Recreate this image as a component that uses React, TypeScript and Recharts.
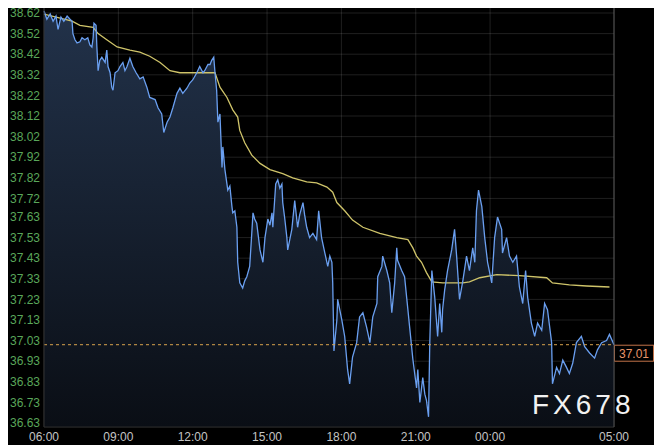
import React from "react";
import {
  ComposedChart,
  Area,
  Line,
  XAxis,
  YAxis,
  CartesianGrid,
  ReferenceLine,
} from "recharts";

// minutes since 06:00
const priceMinutes = [
  0, 7, 15, 22, 29, 34, 41, 48, 56, 63, 68, 70, 75, 80, 87, 92, 99, 106, 111, 116,
  119, 121, 126, 128, 131, 135, 140, 148, 152, 155, 160, 164, 167, 172, 179, 184, 191, 196, 201, 208,
  215, 223, 232, 240, 249, 256, 269, 276, 285, 290, 298, 305, 312, 322, 329, 336, 346, 353, 360, 370,
  377, 385, 389, 397, 402, 406, 411, 414, 418, 421, 426, 431, 433, 438, 445, 450, 455, 457, 462, 467,
  469, 474, 481, 486, 491, 498, 503, 506, 510, 515, 523, 530, 535, 542, 547, 552, 554, 561, 566, 571,
  576, 578, 583, 588, 590, 595, 600, 607, 614, 619, 627, 631, 636, 643, 651, 660, 665, 672, 680, 687,
  692, 697, 699, 702, 709, 711, 721, 728, 735, 740, 747, 757, 764, 772, 781, 789, 796, 806, 808, 818,
  820, 830, 837, 842, 849, 854, 856, 866, 873, 878, 881, 885, 893, 902, 905, 910, 917, 922, 926, 931,
  934, 939, 946, 953, 958, 963, 965, 970, 977, 987, 994, 999, 1006, 1014, 1023, 1030, 1038, 1043, 1047, 1052,
  1060, 1067, 1074, 1084, 1091, 1098, 1108, 1110, 1120, 1127, 1135, 1144, 1151, 1159, 1166, 1171, 1180, 1188, 1195, 1205,
  1212, 1219, 1229, 1231, 1241, 1248, 1256, 1265, 1272, 1280, 1289, 1301, 1309, 1321, 1333, 1340, 1350, 1362, 1369, 1380,
];

const priceValues = [
  38.63, 38.59, 38.615, 38.58, 38.605, 38.54, 38.6, 38.58, 38.605, 38.59, 38.58, 38.52, 38.49, 38.475, 38.48, 38.5, 38.49, 38.5, 38.465, 38.455,
  38.5, 38.57, 38.56, 38.455, 38.34, 38.39, 38.405, 38.38, 38.44, 38.36, 38.33, 38.26, 38.245, 38.33, 38.34, 38.36, 38.38, 38.34, 38.36, 38.4,
  38.36, 38.33, 38.3, 38.31, 38.26, 38.21, 38.2, 38.16, 38.13, 38.04, 38.09, 38.115, 38.16, 38.23, 38.255, 38.23, 38.255, 38.28, 38.295, 38.33,
  38.36, 38.33, 38.34, 38.37, 38.37, 38.39, 38.405, 38.33, 38.245, 38.09, 38.13, 37.87, 37.97, 37.86, 37.76, 37.78, 37.68, 37.65, 37.66, 37.58,
  37.41, 37.31, 37.285, 37.32, 37.34, 37.39, 37.55, 37.65, 37.62, 37.6, 37.47, 37.41, 37.53, 37.62, 37.59, 37.65, 37.58, 37.79, 37.81, 37.77,
  37.79, 37.7, 37.62, 37.53, 37.47, 37.52, 37.57, 37.71, 37.58, 37.64, 37.7, 37.64, 37.58, 37.53, 37.55, 37.52, 37.66, 37.53, 37.455, 37.39,
  37.44, 37.41, 37.31, 36.98, 37.13, 37.23, 37.13, 37.05, 36.89, 36.82, 36.95, 37.02, 37.145, 37.165, 37.095, 37.02, 37.145, 37.21, 37.34, 37.39,
  37.44, 37.37, 37.31, 37.165, 37.31, 37.48, 37.42, 37.37, 37.34, 37.24, 37.18, 37.1, 36.94, 36.8, 36.89, 36.73, 36.85, 36.77, 36.74, 36.66,
  37.02, 37.37, 37.24, 37.05, 37.21, 37.07, 37.18, 37.275, 37.37, 37.47, 37.57, 37.44, 37.23, 37.32, 37.44, 37.37, 37.48, 37.41, 37.66, 37.76,
  37.68, 37.53, 37.41, 37.31, 37.53, 37.63, 37.57, 37.455, 37.53, 37.44, 37.41, 37.44, 37.29, 37.21, 37.37, 37.24, 37.115, 37.05, 37.115, 37.08,
  37.21, 37.18, 37.02, 36.82, 36.9, 36.87, 36.935, 36.9, 36.87, 36.92, 37.02, 37.05, 37.0, 36.97, 36.945, 36.985, 37.02, 37.03, 37.06, 37.01,
];

const avgMinutes = [
  0, 39, 68, 87, 119, 131, 152, 177, 208, 232, 256, 281, 305, 329, 360, 414, 426, 443, 457, 469,
  474, 486, 503, 523, 547, 578, 602, 636, 660, 685, 699, 709, 728, 747, 772, 813, 854, 881, 893, 902,
  914, 926, 939, 965, 1014, 1030, 1055, 1096, 1151, 1217, 1231, 1272, 1314, 1369,
];

const avgValues = [
  38.615, 38.595, 38.58, 38.56, 38.55, 38.52, 38.49, 38.455, 38.44, 38.43, 38.41, 38.38, 38.34, 38.33, 38.33, 38.33, 38.26, 38.21, 38.15, 38.115,
  38.05, 37.99, 37.93, 37.89, 37.86, 37.84, 37.82, 37.8, 37.795, 37.775, 37.75, 37.7, 37.66, 37.615, 37.58, 37.55, 37.53, 37.52, 37.48, 37.44,
  37.41, 37.36, 37.315, 37.31, 37.31, 37.315, 37.335, 37.35, 37.345, 37.335, 37.31, 37.3, 37.295, 37.29,
];

const leftTickLabels = [
  "38.62", "38.52", "38.42", "38.32", "38.22", "38.12", "38.02", "37.92", "37.82", "37.72", "37.63",
  "37.53", "37.43", "37.33", "37.23", "37.13", "37.03", "36.93", "36.83", "36.73", "36.63",
];

const rightTickLabels = [
  "0.26%", "0.51%", "0.77%", "1.03%", "1.29%", "1.54%", "1.80%", "2.06%", "2.31%", "2.57%", "2.83%",
  "3.08%", "3.34%", "3.60%", "3.86%", "4.11%", "4.37%", "4.62%", "4.88%", "5.14%", "5.40%",
];

const xTickMinutes = [0, 180, 360, 540, 720, 900, 1080, 1380];
const xTickLabels = ["06:00", "09:00", "12:00", "15:00", "18:00", "21:00", "00:00", "05:00"];

const lastPrice = 37.01;
const lastPriceLabel = "37.01";
const watermark = "FX678";

const yDomain: [number, number] = [36.6106, 38.6685];

const FONT = "'Liberation Sans', Arial, sans-serif";

const priceData = priceMinutes.map((m, i) => ({ m, p: priceValues[i] }));
const avgData = avgMinutes.map((m, i) => ({ m, a: avgValues[i] }));
const leftTicks = leftTickLabels.map(Number);

const PriceTag = (props: any) => {
  const vb = props.viewBox || {};
  const x = (vb.x || 0) + (vb.width || 0);
  const y = vb.y || 0;
  return (
    <g>
      <rect x={x + 0.5} y={y + 0.5} width={39} height={16} fill="#000" stroke="#c27248" strokeWidth={1} />
      <text x={x + 20} y={y + 13} textAnchor="middle" fill="#e8956a" fontSize={12} fontFamily={FONT}>
        {lastPriceLabel}
      </text>
    </g>
  );
};

export default function App() {
  return (
    <div style={{ position: "relative", width: 655, height: 445, marginTop: -8, marginLeft: -1, background: "#000" }}>
      <ComposedChart width={655} height={445} margin={{ top: 3, right: 0, bottom: 0, left: 0 }}>
        <defs>
          <linearGradient id="navyFill" x1="0" y1="0" x2="0" y2="1">
            <stop offset="0%" stopColor="#22324a" stopOpacity={1} />
            <stop offset="100%" stopColor="#0a0e15" stopOpacity={1} />
          </linearGradient>
        </defs>
        <XAxis
          dataKey="m"
          type="number"
          domain={[0, 1380]}
          ticks={xTickMinutes}
          interval={0}
          tickFormatter={(v: number) => xTickLabels[xTickMinutes.indexOf(v)] || ""}
          height={18}
          tickLine={false}
          tickSize={0}
          tickMargin={5}
          axisLine={{ stroke: "#2a2a2a" }}
          tick={{ fill: "#c4c4c4", fontSize: 12, fontFamily: FONT }}
        />
        <YAxis
          yAxisId="left"
          orientation="left"
          type="number"
          domain={yDomain}
          ticks={leftTicks}
          interval={0}
          width={37}
          tickLine={false}
          tickSize={0}
          tickMargin={4}
          axisLine={{ stroke: "#333" }}
          tickFormatter={(v: number) => leftTickLabels[leftTicks.indexOf(v)] || ""}
          tick={{ fill: "#5aa65a", fontSize: 12, fontFamily: FONT }}
        />
        <YAxis
          yAxisId="right"
          orientation="right"
          type="number"
          domain={yDomain}
          ticks={leftTicks}
          interval={0}
          width={48}
          tickLine={false}
          tickSize={0}
          tickMargin={3}
          axisLine={{ stroke: "#555" }}
          tickFormatter={(v: number) => rightTickLabels[leftTicks.indexOf(v)] || ""}
          tick={{ fill: "#5aa65a", fontSize: 12, fontFamily: FONT, textAnchor: "start" }}
        />
        <Area
          yAxisId="left"
          data={priceData}
          dataKey="p"
          type="linear"
          stroke="none"
          fill="url(#navyFill)"
          fillOpacity={1}
          isAnimationActive={false}
        />
        <CartesianGrid
          yAxisId="left"
          stroke="rgba(255,255,255,0.12)"
          strokeWidth={1}
          fill="none"
        />
        <Line
          yAxisId="left"
          data={avgData}
          dataKey="a"
          type="linear"
          stroke="#cfc46a"
          strokeWidth={1.3}
          dot={false}
          isAnimationActive={false}
        />
        <Line
          yAxisId="left"
          data={priceData}
          dataKey="p"
          type="linear"
          stroke="#6a9ff0"
          strokeWidth={1.3}
          dot={false}
          isAnimationActive={false}
        />
        <ReferenceLine
          yAxisId="left"
          y={lastPrice}
          stroke="#d9a24c"
          strokeDasharray="3 3"
          strokeWidth={1}
          label={PriceTag}
        />
      </ComposedChart>
      <div
        style={{
          position: "absolute",
          left: 525,
          top: 389,
          fontFamily: FONT,
          fontSize: 28,
          letterSpacing: 4,
          color: "#f2f2f2",
          lineHeight: "32px",
          pointerEvents: "none",
        }}
      >
        {watermark}
      </div>
    </div>
  );
}
